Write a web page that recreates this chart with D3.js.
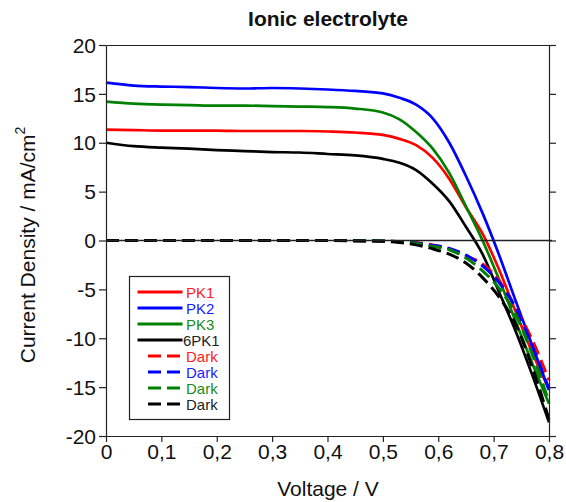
<!DOCTYPE html>
<html>
<head>
<meta charset="utf-8">
<script src="https://cdn.jsdelivr.net/npm/d3@7"></script>
<style>
  html, body { margin: 0; padding: 0; background: #fff; }
  svg { display: block; font-family: "Liberation Sans", Arial, sans-serif; }
</style>
</head>
<body>
<svg id="chart" width="566" height="502"></svg>
<script>
// ---------------- data ----------------
const voltage = [0, 0.05, 0.1, 0.15, 0.2, 0.25, 0.3, 0.35, 0.4, 0.45, 0.5, 0.53, 0.56, 0.59, 0.62, 0.65, 0.68, 0.71, 0.74, 0.77, 0.8];

const pk1   = [11.35, 11.3, 11.25, 11.25, 11.25, 11.2, 11.2, 11.2, 11.15, 11.05, 10.8, 10.4, 9.75, 8.45, 6.3, 3.4, 0.7, -3.0, -7.3, -11.5, -15.2];
const pk2   = [16.15, 15.85, 15.75, 15.7, 15.6, 15.55, 15.6, 15.55, 15.45, 15.3, 15.05, 14.6, 13.9, 12.5, 10.0, 6.6, 2.8, -1.5, -6.2, -10.8, -15.3];
const pk3   = [14.2, 14.0, 13.9, 13.85, 13.8, 13.8, 13.75, 13.7, 13.65, 13.5, 13.1, 12.4, 11.1, 9.4, 6.9, 3.5, 0.0, -4.0, -8.3, -12.6, -16.7];
const pk6   = [10.0, 9.65, 9.5, 9.4, 9.25, 9.15, 9.05, 9.0, 8.85, 8.7, 8.35, 7.95, 7.2, 5.8, 4.0, 1.4, -1.4, -5.3, -9.3, -13.8, -18.6];

const darkPk1 = [0, 0, 0, 0, 0, 0, 0, 0, 0, -0.02, -0.05, -0.1, -0.2, -0.45, -0.85, -1.55, -2.4, -4.1, -6.9, -10.2, -14.3];
const darkPk2 = [0, 0, 0, 0, 0, 0, 0, 0, 0, -0.02, -0.05, -0.12, -0.25, -0.5, -0.8, -1.5, -2.6, -4.3, -6.9, -10.8, -15.2];
const darkPk3 = [0, 0, 0, 0, 0, 0, 0, 0, 0, -0.02, -0.05, -0.15, -0.3, -0.6, -0.95, -1.8, -3.1, -4.9, -7.6, -11.7, -16.5];
const darkPk6 = [0, 0, 0, 0, 0, 0, 0, 0, 0, -0.03, -0.08, -0.2, -0.45, -0.85, -1.4, -2.3, -3.8, -5.8, -8.6, -13.0, -18.3];

const seriesNames  = ["PK1", "PK2", "PK3", "6PK1", "Dark", "Dark", "Dark", "Dark"];
const seriesColors = ["#ff0000", "#0000ff", "#008000", "#000000", "#ff0000", "#0000ff", "#008000", "#000000"];
const labelColors  = ["#ff2020", "#2020ff", "#1a8a1a", "#222222", "#ff2020", "#2020ff", "#1a8a1a", "#222222"];
const seriesDashed = [false, false, false, false, true, true, true, true];
const seriesValues = [pk1, pk2, pk3, pk6, darkPk1, darkPk2, darkPk3, darkPk6];

const xTicks = [0, 0.1, 0.2, 0.3, 0.4, 0.5, 0.6, 0.7, 0.8];
const xTickLabels = ["0", "0,1", "0,2", "0,3", "0,4", "0,5", "0,6", "0,7", "0,8"];
const yTicks = [-20, -15, -10, -5, 0, 5, 10, 15, 20];
const yTickLabels = ["-20", "-15", "-10", "-5", "0", "5", "10", "15", "20"];

const titleText = "Ionic electrolyte";
const xTitle = "Voltage / V";
const yTitle = "Current Density / mA/cm";

// ---------------- layout ----------------
const svg = d3.select("#chart");
const L = 106, R = 549, T = 45, B = 436;

const x = d3.scaleLinear().domain([0, 0.8]).range([L, R]);
const y = d3.scaleLinear().domain([-20, 20]).range([B, T]);

// title
svg.append("text")
  .attr("x", 328).attr("y", 26)
  .attr("text-anchor", "middle")
  .attr("font-size", 21).attr("font-weight", "bold")
  .attr("fill", "#111")
  .text(titleText);

// curves
const line = d3.line().curve(d3.curveMonotoneX);
const g = svg.append("g");
seriesValues.forEach((vals, i) => {
  const pts = voltage.map((v, j) => [x(v), y(vals[j])]);
  g.append("path")
    .attr("d", line(pts))
    .attr("fill", "none")
    .attr("stroke", seriesColors[i])
    .attr("stroke-width", seriesDashed[i] ? 3 : 2.7)
    .attr("stroke-dasharray", seriesDashed[i] ? "13,6" : null);
});

// zero line
svg.append("line")
  .attr("x1", L).attr("x2", R + 3)
  .attr("y1", y(0)).attr("y2", y(0))
  .attr("stroke", "#222").attr("stroke-width", 1.6);

// axes
const axisStyle = sel => {
  sel.select(".domain").attr("stroke", "#222").attr("stroke-width", 1.2);
  sel.selectAll(".tick line").attr("stroke", "#222").attr("stroke-width", 1.2);
  sel.selectAll(".tick text").attr("fill", "#111").attr("font-family", "Liberation Sans, Arial, sans-serif");
};

const yAxisL = svg.append("g").attr("transform", `translate(${L},0)`)
  .call(d3.axisLeft(y).tickValues(yTicks).tickSize(7).tickSizeOuter(0)
    .tickFormat((d, i) => yTickLabels[i]));
yAxisL.call(axisStyle);
yAxisL.selectAll(".tick text").attr("font-size", 21).attr("x", -10).attr("dy", "0.34em");

const yAxisR = svg.append("g").attr("transform", `translate(${R},0)`)
  .call(d3.axisRight(y).tickValues(yTicks).tickSize(7).tickSizeOuter(0).tickFormat(""));
yAxisR.call(axisStyle);

const xAxisB = svg.append("g").attr("transform", `translate(0,${B})`)
  .call(d3.axisBottom(x).tickValues(xTicks).tickSize(6).tickSizeOuter(0)
    .tickFormat((d, i) => xTickLabels[i]));
xAxisB.call(axisStyle);
xAxisB.selectAll(".tick text").attr("font-size", 21).attr("y", 8).attr("dy", "0.71em");

const xAxisT = svg.append("g").attr("transform", `translate(0,${T})`)
  .call(d3.axisTop(x).tickValues([]).tickSizeOuter(0));
xAxisT.call(axisStyle);

// axis titles
svg.append("text")
  .attr("x", 328).attr("y", 496)
  .attr("text-anchor", "middle")
  .attr("font-size", 21).attr("fill", "#111")
  .text(xTitle);

const yt = svg.append("text")
  .attr("transform", "translate(35,245) rotate(-90)")
  .attr("text-anchor", "middle")
  .attr("font-size", 21).attr("fill", "#111");
yt.append("tspan").text(yTitle);
yt.append("tspan").attr("font-size", 14).attr("dy", "-0.75em").text("2");

// legend
const lg = svg.append("g");
lg.append("rect")
  .attr("x", 129.5).attr("y", 276.5).attr("width", 100).attr("height", 143)
  .attr("fill", "#fff").attr("stroke", "#222").attr("stroke-width", 1.2);
seriesNames.forEach((name, i) => {
  const yy = 292 + i * 16;
  lg.append("line")
    .attr("x1", seriesDashed[i] ? 148 : 137.5)
    .attr("x2", seriesDashed[i] ? 180 : 182.5)
    .attr("y1", yy).attr("y2", yy)
    .attr("stroke", seriesColors[i])
    .attr("stroke-width", 3)
    .attr("stroke-dasharray", seriesDashed[i] ? "13,6" : null);
  lg.append("text")
    .attr("x", name === "6PK1" ? 183 : 186)
    .attr("y", yy + 5.5)
    .attr("font-size", 15)
    .attr("fill", labelColors[i])
    .text(name);
});
</script>
</body>
</html>
